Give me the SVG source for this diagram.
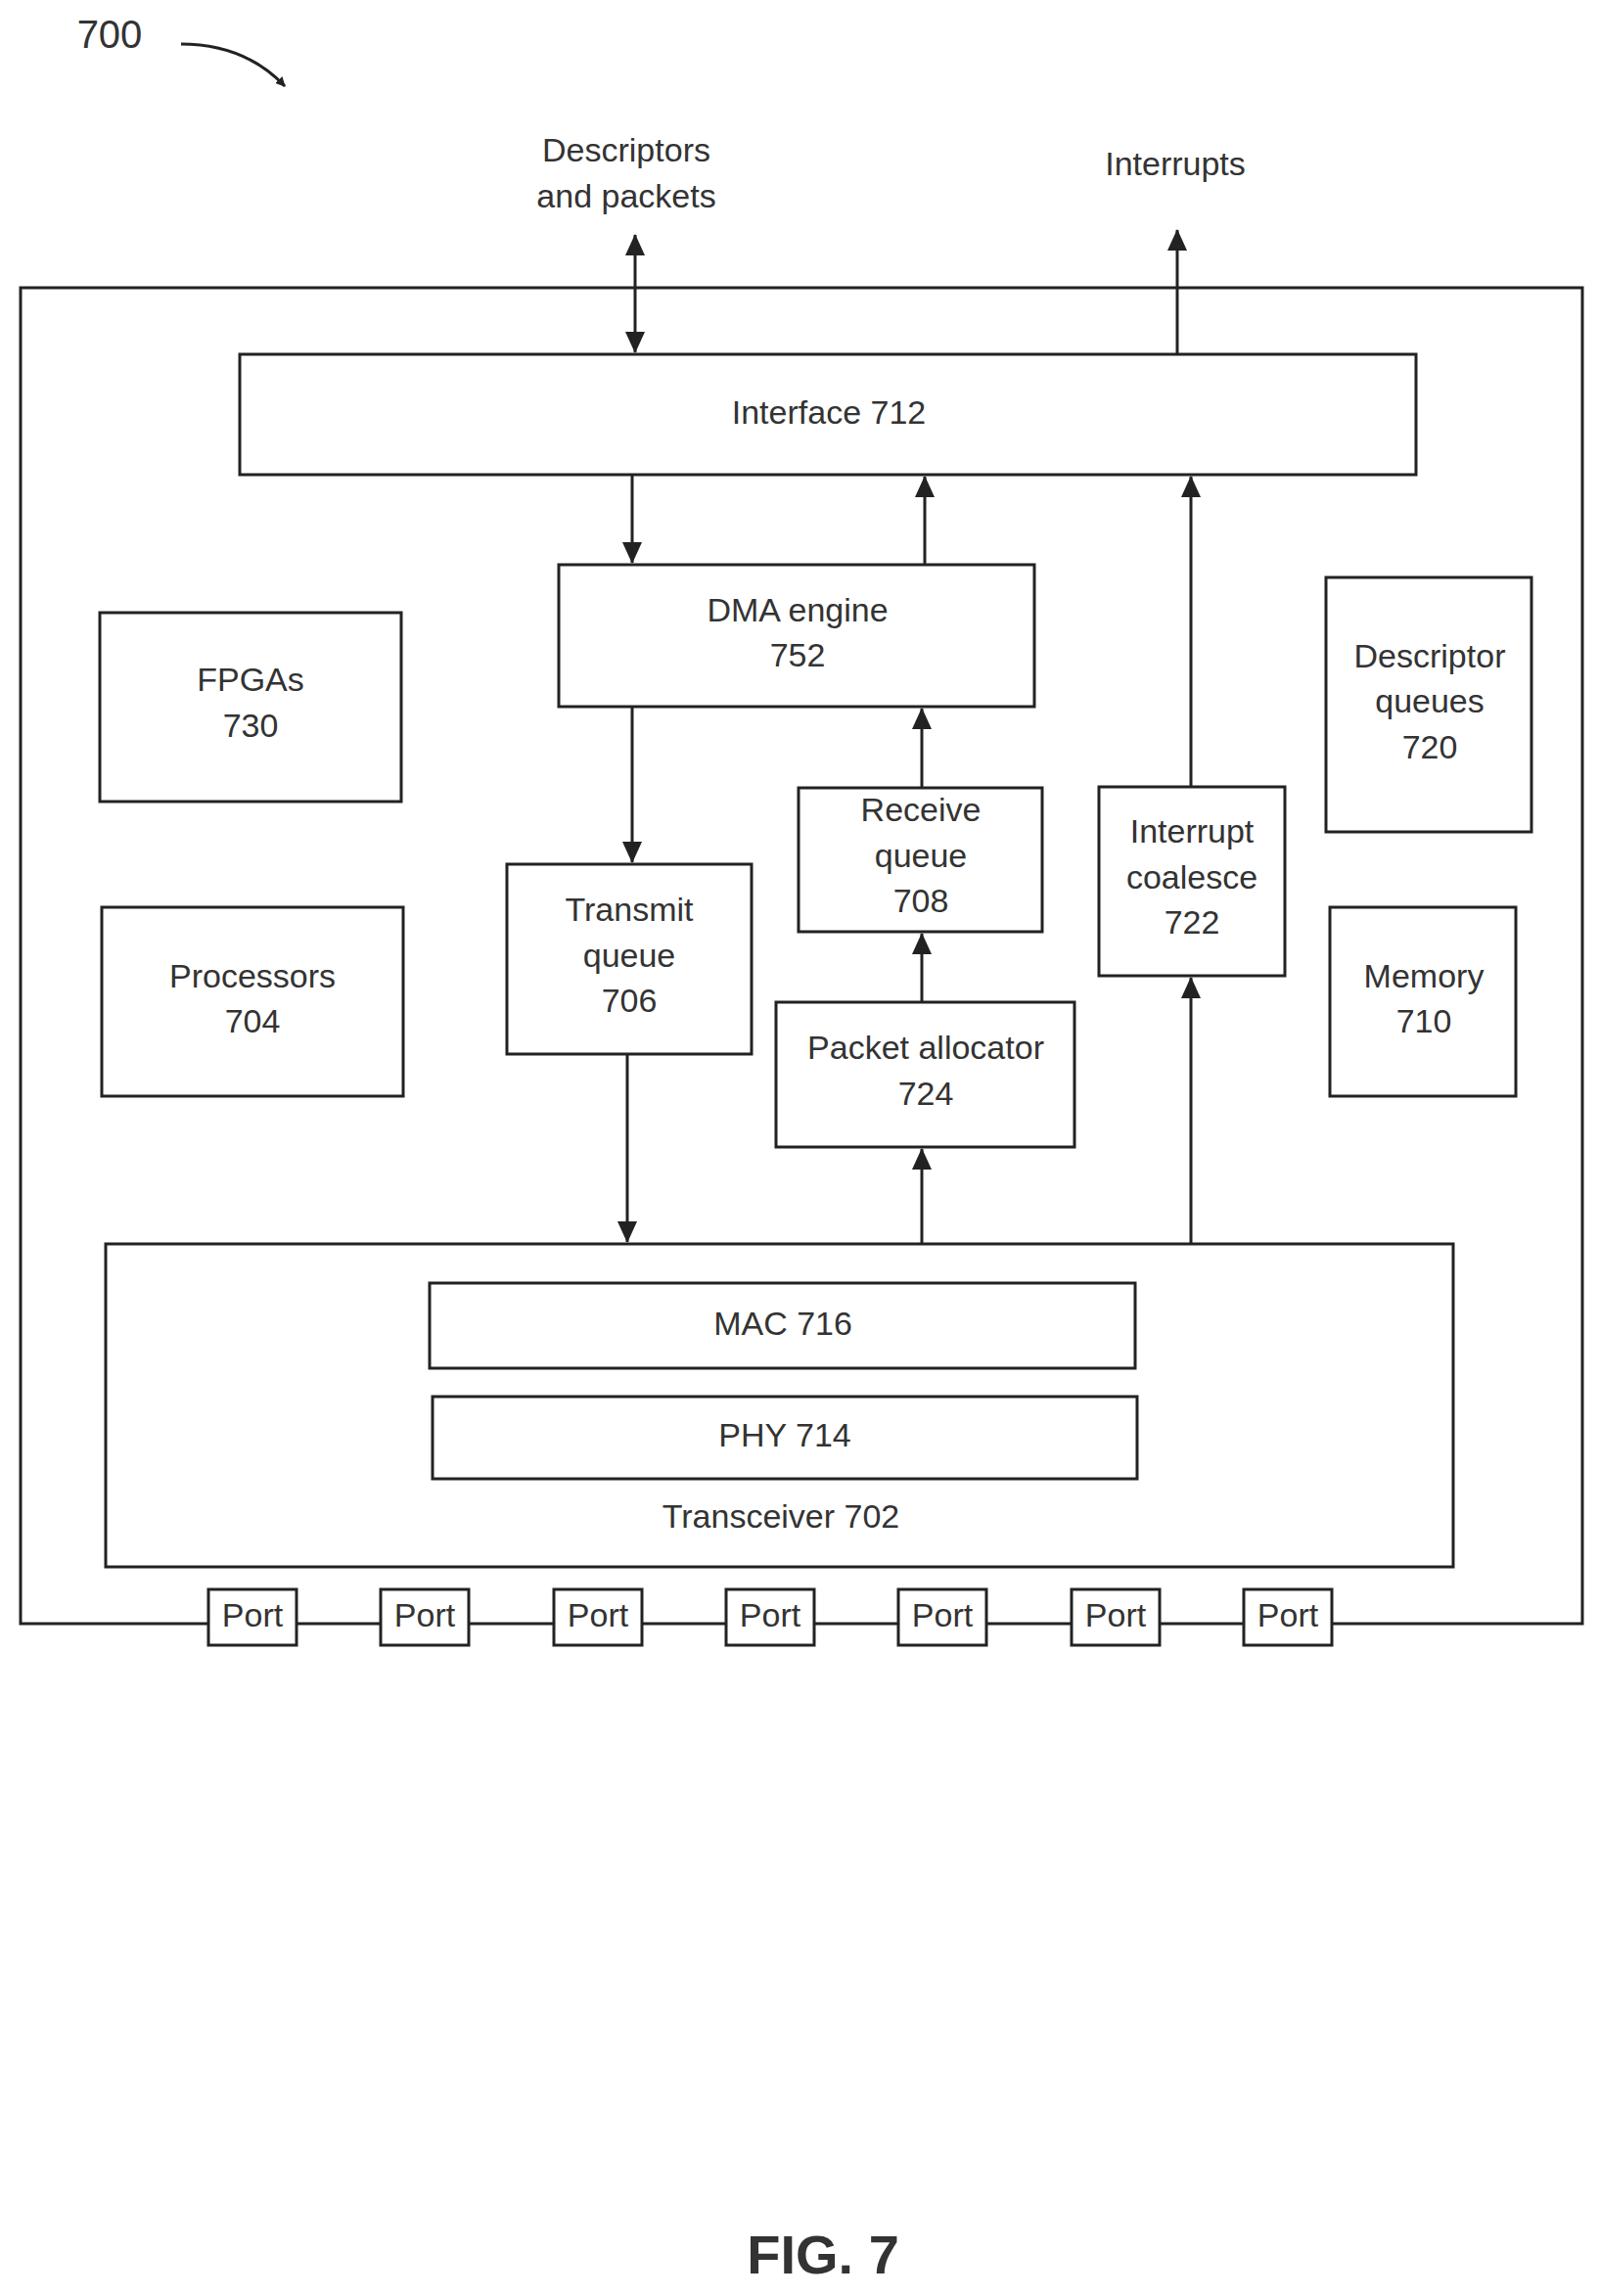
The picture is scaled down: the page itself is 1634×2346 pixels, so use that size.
<svg xmlns="http://www.w3.org/2000/svg" width="1634" height="2346" viewBox="0 0 1634 2346">
<style>
rect{fill:#fff;stroke:#222;stroke-width:3}
text{font-family:"Liberation Sans",Arial,sans-serif;font-size:34px;fill:#333;text-anchor:middle;dominant-baseline:middle}
.c line,.c path{stroke:#222;stroke-width:3;fill:none}
</style>
<defs><marker id="a" markerWidth="10" markerHeight="10" refX="9" refY="5" orient="auto-start-reverse" markerUnits="userSpaceOnUse" viewBox="0 0 10 10"><path d="M0,0 L10,5 L0,10Z" fill="#222"/></marker>
<marker id="b" markerWidth="22" markerHeight="20" refX="21" refY="10" orient="auto-start-reverse" markerUnits="userSpaceOnUse"><path d="M0,0 L22,10 L0,20Z" fill="#222"/></marker></defs>
<text x="112" y="38" style="font-size:40px">700</text>
<text x="640" y="156">Descriptors</text><text x="640" y="203">and packets</text>
<text x="1201" y="170">Interrupts</text>
<g id="outer"><rect x="21" y="294" width="1596" height="1365"/></g>
<g id="n712"><rect x="245" y="362" width="1202" height="123"/><text x="847" y="424">Interface 712</text></g>
<g id="n752"><rect x="571" y="577" width="486" height="145"/><text x="815" y="626">DMA engine</text><text x="815" y="672">752</text></g>
<g id="n730"><rect x="102" y="626" width="308" height="193"/><text x="256" y="697">FPGAs</text><text x="256" y="744">730</text></g>
<g id="n704"><rect x="104" y="927" width="308" height="193"/><text x="258" y="1000">Processors</text><text x="258" y="1046">704</text></g>
<g id="n720"><rect x="1355" y="590" width="210" height="260"/><text x="1461" y="673">Descriptor</text><text x="1461" y="719">queues</text><text x="1461" y="766">720</text></g>
<g id="n710"><rect x="1359" y="927" width="190" height="193"/><text x="1455" y="1000">Memory</text><text x="1455" y="1046">710</text></g>
<g id="n706"><rect x="518" y="883" width="250" height="194"/><text x="643" y="932">Transmit</text><text x="643" y="979">queue</text><text x="643" y="1025">706</text></g>
<g id="n708"><rect x="816" y="805" width="249" height="147"/><text x="941" y="830">Receive</text><text x="941" y="877">queue</text><text x="941" y="923">708</text></g>
<g id="n722"><rect x="1123" y="804" width="190" height="193"/><text x="1218" y="852">Interrupt</text><text x="1218" y="899">coalesce</text><text x="1218" y="945">722</text></g>
<g id="n724"><rect x="793" y="1024" width="305" height="148"/><text x="946" y="1073">Packet allocator</text><text x="946" y="1120">724</text></g>
<g id="n702"><rect x="108" y="1271" width="1377" height="330"/><text x="798" y="1552">Transceiver 702</text></g>
<g id="n716"><rect x="439" y="1311" width="721" height="87"/><text x="800" y="1355">MAC 716</text></g>
<g id="n714"><rect x="442" y="1427" width="720" height="84"/><text x="802" y="1469">PHY 714</text></g>
<g id="ports">
<rect x="213" y="1624" width="90" height="57"/><text x="258" y="1653">Port</text>
<rect x="389" y="1624" width="90" height="57"/><text x="434" y="1653">Port</text>
<rect x="566" y="1624" width="90" height="57"/><text x="611" y="1653">Port</text>
<rect x="742" y="1624" width="90" height="57"/><text x="787" y="1653">Port</text>
<rect x="918" y="1624" width="90" height="57"/><text x="963" y="1653">Port</text>
<rect x="1095" y="1624" width="90" height="57"/><text x="1140" y="1653">Port</text>
<rect x="1271" y="1624" width="90" height="57"/><text x="1316" y="1653">Port</text>
</g>
<g class="c">
<path d="M185,45 Q250,45 291,88" marker-end="url(#a)"/>
<line x1="649" y1="240" x2="649" y2="360" marker-start="url(#b)" marker-end="url(#b)"/>
<line x1="1203" y1="362" x2="1203" y2="235" marker-end="url(#b)"/>
<line x1="646" y1="485" x2="646" y2="575" marker-end="url(#b)"/>
<line x1="945" y1="577" x2="945" y2="487" marker-end="url(#b)"/>
<line x1="1217" y1="804" x2="1217" y2="487" marker-end="url(#b)"/>
<line x1="646" y1="722" x2="646" y2="881" marker-end="url(#b)"/>
<line x1="942" y1="805" x2="942" y2="724" marker-end="url(#b)"/>
<line x1="942" y1="1024" x2="942" y2="954" marker-end="url(#b)"/>
<line x1="641" y1="1077" x2="641" y2="1269" marker-end="url(#b)"/>
<line x1="942" y1="1271" x2="942" y2="1174" marker-end="url(#b)"/>
<line x1="1217" y1="1271" x2="1217" y2="999" marker-end="url(#b)"/>
</g>
<text x="841" y="2308" style="font-size:56px;font-weight:bold">FIG. 7</text>
</svg>
